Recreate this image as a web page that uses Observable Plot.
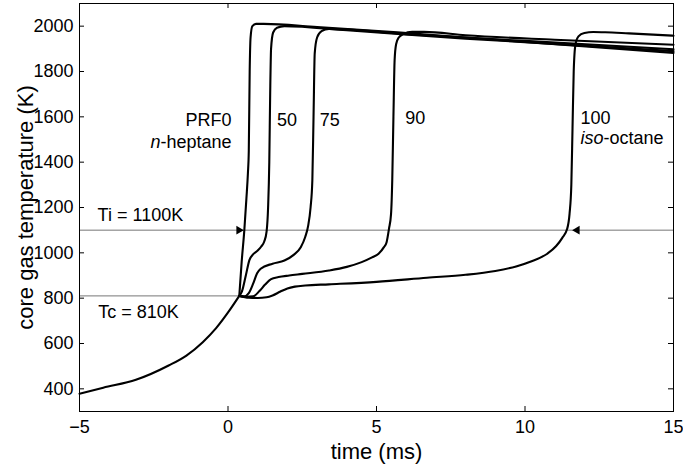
<!DOCTYPE html>
<html><head><meta charset="utf-8">
<script src="https://cdn.jsdelivr.net/npm/d3@7"></script>
<script src="https://cdn.jsdelivr.net/npm/@observablehq/plot@0.6"></script>
<style>html,body{margin:0;padding:0;background:#fff}#chart svg{display:block}</style>
</head><body><div id="chart"></div>
<script>
// ---- data ----
const xTicks = [-5, 0, 5, 10, 15];
const yTicks = [400, 600, 800, 1000, 1200, 1400, 1600, 1800, 2000];
const xTitle = ["time (ms)"];
const yTitle = ["core gas temperature (K)"];

// common compression stroke
const compressionTime = [-5, -4.2, -3.1, -2, -1.4, -0.85, -0.4, 0.05, 0.38];
const compressionTemp = [378, 405, 440, 503, 547, 606, 668, 746, 810];

const prf0Time = [0.38, 0.46, 0.55, 0.62, 0.67, 0.70, 0.73, 0.76, 0.82, 0.95, 1.2, 3, 5.7, 10, 15];
const prf0Temp = [810, 960, 1100, 1240, 1350, 1450, 1800, 1950, 2000, 2010, 2010, 1996, 1973, 1930, 1882];

const prf50Time = [0.38, 0.47, 0.6, 0.72, 0.85, 1.0, 1.12, 1.22, 1.3, 1.35, 1.39, 1.42, 1.45, 1.52, 1.65, 1.9, 4, 8, 15];
const prf50Temp = [810, 830, 900, 968, 994, 1010, 1028, 1050, 1095, 1200, 1400, 1700, 1900, 1972, 1993, 2000, 1982, 1945, 1890];

const prf75Time = [0.38, 0.55, 0.7, 0.85, 0.98, 1.1, 1.5, 1.9, 2.2, 2.45, 2.6, 2.7, 2.78, 2.84, 2.88, 2.92, 3.0, 3.15, 3.4, 6, 10, 15];
const prf75Temp = [810, 808, 822, 865, 910, 930, 952, 966, 990, 1025, 1070, 1120, 1200, 1320, 1600, 1880, 1950, 1978, 1988, 1965, 1935, 1898];

const prf90Time = [0.38, 0.6, 0.85, 1.05, 1.25, 1.45, 1.7, 2.06, 2.5, 3.4, 4.0, 4.5, 4.85, 5.07, 5.25, 5.34, 5.42, 5.49, 5.53, 5.57, 5.61, 5.66, 5.75, 5.9, 6.2, 6.6, 8, 11, 15];
const prf90Temp = [810, 806, 808, 830, 860, 884, 893, 900, 907, 922, 938, 959, 980, 996, 1025, 1047, 1106, 1172, 1319, 1600, 1850, 1920, 1950, 1965, 1975, 1975, 1960, 1940, 1918];

const prf100Time = [0.38, 0.7, 1.0, 1.3, 1.5, 1.75, 2.0, 2.25, 2.6, 3.4, 5, 6.7, 8, 9, 9.7, 10.2, 10.75, 11.05, 11.25, 11.42, 11.5, 11.56, 11.6, 11.64, 11.7, 11.8, 12.0, 12.3, 12.7, 13.5, 15];
const prf100Temp = [810, 802, 801, 804, 812, 828, 843, 851, 856, 861, 872, 890, 903, 920, 940, 962, 996, 1030, 1065, 1106, 1172, 1300, 1550, 1800, 1920, 1955, 1970, 1974, 1973, 1968, 1958];

// reference levels
const tiTemp = [1100];
const tcTemp = [810];
const tcFrom = [-5];
const tcTo = [0.38];

// ignition-point arrows
const arrowRightTime = [0.52];
const arrowLeftTime = [11.6];
const arrowTemp = [1100];

// annotations
const endLabelText = ["PRF0", "n-heptane"];
const endLabelTime = [0.12, 0.12];
const endLabelTemp = [1586, 1490];
const startLabelText = ["50", "75", "90", "100", "iso-octane", "Ti = 1100K", "Tc = 810K"];
const startLabelTime = [1.65, 3.09, 5.97, 11.87, 11.87, -4.39, -4.37];
const startLabelTemp = [1586, 1586, 1595, 1595, 1505, 1165, 737];

// ---- build tables ----
const rows = [];
function addSeries(name, times, temps) {
  times.forEach((t, i) => rows.push({series: name, time: t, temp: temps[i]}));
}
addSeries("compression", compressionTime, compressionTemp);
addSeries("PRF0", prf0Time, prf0Temp);
addSeries("PRF50", prf50Time, prf50Temp);
addSeries("PRF75", prf75Time, prf75Temp);
addSeries("PRF90", prf90Time, prf90Temp);
addSeries("PRF100", prf100Time, prf100Temp);

const tcRows = tcTemp.map((T, i) => ({T, from: tcFrom[i], to: tcTo[i]}));
const endLabels = endLabelText.map((s, i) => ({s, t: endLabelTime[i], T: endLabelTemp[i]}));
const startLabels = startLabelText.map((s, i) => ({s, t: startLabelTime[i], T: startLabelTemp[i]}));

const font = "'Liberation Sans', Arial, Helvetica, sans-serif";
const W = 683, H = 469, ML = 79, MR = 10, MT = 3, MB = 58;
const innerW = W - ML - MR, innerH = H - MT - MB, TICK = 5;
const numFmt = d => String(d).replace("-", "\u2212");

const chart = Plot.plot({
  width: W,
  height: H,
  marginLeft: ML,
  marginRight: MR,
  marginTop: MT,
  marginBottom: MB,
  style: {fontFamily: font, background: "#fff", color: "#000", overflow: "visible"},
  x: {domain: [-5, 15], axis: null},
  y: {domain: [300, 2100], axis: null},
  marks: [
    Plot.ruleY(tiTemp, {y: d => d, stroke: "#666", strokeWidth: 0.9}),
    Plot.ruleY(tcRows, {y: "T", x1: "from", x2: "to", stroke: "#666", strokeWidth: 0.9}),
    Plot.line(rows, {x: "time", y: "temp", z: "series", stroke: "#000", strokeWidth: 2.1, curve: "monotone-x"}),
    Plot.dot(arrowRightTime, {x: d => d, y: arrowTemp[0], symbol: "triangle", rotate: 90, r: 3.2, fill: "#000", stroke: "none", dx: -4.6}),
    Plot.dot(arrowLeftTime, {x: d => d, y: arrowTemp[0], symbol: "triangle", rotate: -90, r: 3.2, fill: "#000", stroke: "none", dx: 4.6}),
    Plot.text(endLabels, {x: "t", y: "T", text: "s", textAnchor: "end", fontSize: 18, fill: "#000"}),
    Plot.text(startLabels, {x: "t", y: "T", text: "s", textAnchor: "start", fontSize: 18, fill: "#000"}),
    Plot.frame({stroke: "#000", strokeWidth: 1}),
    // inward ticks on all four sides
    Plot.ruleX(xTicks, {x: d => d, insetTop: innerH - TICK, stroke: "#000", strokeWidth: 1}),
    Plot.ruleX(xTicks, {x: d => d, insetBottom: innerH - TICK, stroke: "#000", strokeWidth: 1}),
    Plot.ruleY(yTicks, {y: d => d, insetRight: innerW - TICK, stroke: "#000", strokeWidth: 1}),
    Plot.ruleY(yTicks, {y: d => d, insetLeft: innerW - TICK, stroke: "#000", strokeWidth: 1}),
    // tick labels
    Plot.text(xTicks, {x: d => d, frameAnchor: "bottom", text: numFmt, lineAnchor: "top", textAnchor: "middle", dy: 9, fontSize: 18, fill: "#000"}),
    Plot.text(yTicks, {y: d => d, frameAnchor: "left", text: numFmt, lineAnchor: "middle", textAnchor: "end", dx: -6, fontSize: 18, fill: "#000"}),
    // axis titles
    Plot.text(xTitle, {frameAnchor: "bottom", text: d => d, textAnchor: "middle", lineAnchor: "middle", dy: 40, fontSize: 22, fill: "#000"}),
    Plot.text(yTitle, {frameAnchor: "left", text: d => d, textAnchor: "middle", lineAnchor: "middle", rotate: -90, dx: -54, fontSize: 22, fill: "#000"})
  ]
});

// italic prefixes (n-heptane, iso-octane)
const italicParts = {"n-heptane": ["n", "-heptane"], "iso-octane": ["iso", "-octane"]};
d3.select(chart).selectAll("text").each(function () {
  const s = this.textContent;
  if (italicParts[s]) {
    const [a, b] = italicParts[s];
    const el = d3.select(this);
    el.text(null);
    el.append("tspan").attr("font-style", "italic").text(a);
    el.append("tspan").text(b);
  }
});

document.getElementById("chart").appendChild(chart);
</script>
</body></html>
